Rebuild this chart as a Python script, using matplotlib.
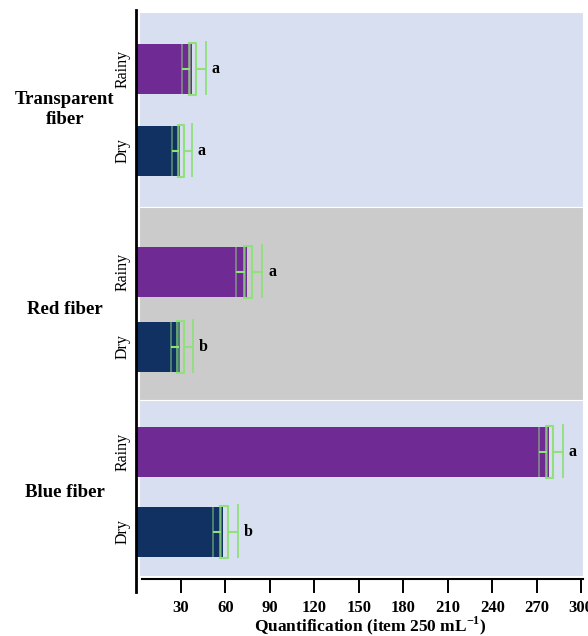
import numpy as np
import matplotlib.pyplot as plt

plt.rcParams['font.family'] = ['Liberation Serif', 'DejaVu Serif']
plt.rcParams['mathtext.fontset'] = 'custom'
plt.rcParams['mathtext.rm'] = 'Liberation Serif'
plt.rcParams['mathtext.bf'] = 'Liberation Serif:bold'

# fiber counts per season (mean and error)
groups = ['Transparent\nfiber', 'Red fiber', 'Blue fiber']
rainy_mean = [37.4, 74.5, 278.0]
rainy_err = [6.4, 7.0, 6.3]
dry_mean = [29.5, 29.5, 58.3]
dry_err = [5.4, 6.0, 6.7]
rainy_sig = ['a', 'a', 'a']
dry_sig = ['a', 'b', 'b']
xticks = [30, 60, 90, 120, 150, 180, 210, 240, 270, 300]

# layout (y runs downward, one unit per pixel row)
band_edges = [12, 207, 400, 576]
band_colors = ['#d8dff0', '#cbcbcb', '#d8dff0']
rainy_y = [68.5, 272, 452]
dry_y = [151, 347, 532]
bar_h = 50

c_rainy = '#702a94'
c_dry = '#123163'
c_err = '#90e07c'

fig = plt.figure(figsize=(5.88, 6.36), dpi=100)
W, H = 588, 636
ax = fig.add_axes([136.2 / W, (H - 579) / H, 446.5 / W, 569 / H])
ax.set_xlim(0, 301)
ax.set_ylim(579, 10)

for i in range(3):
    ax.axhspan(band_edges[i], band_edges[i + 1], xmin=0.006, xmax=1,
               facecolor=band_colors[i], edgecolor='white', lw=0.8, zorder=0)


def draw_err(y, v, e, sig):
    top, bot = y - bar_h / 2, y + bar_h / 2
    # inner bar ending at the mean
    ax.vlines([v - e, v - 0.15 * e], top, bot, color=c_err, alpha=0.5, lw=1.3, zorder=3)
    ax.hlines(y, v - e, v - 0.15 * e, color=c_err, lw=1.5, zorder=3)
    # bracket around the mean
    xs = [v - 0.3 * e, v + 0.5 * e, v + 0.5 * e, v - 0.3 * e]
    ax.plot(xs, [top - 1, top - 1, bot + 1, bot + 1], color=c_err, lw=1.5, zorder=4)
    ax.vlines(v - 0.3 * e, top - 1, bot + 1, color=c_err, lw=1.3, alpha=0.7, zorder=4)
    # outer whisker
    ax.hlines(y, v + 0.5 * e, v + 1.5 * e, color=c_err, lw=1.5, zorder=4)
    ax.vlines(v + 1.5 * e, top - 3, bot + 1, color=c_err, lw=1.3, zorder=4)
    ax.text(v + 1.5 * e + 4, y, sig, fontsize=11.5, fontweight='bold',
            ha='left', va='center', zorder=5)


for i in range(3):
    ax.barh(rainy_y[i], rainy_mean[i], height=bar_h, color=c_rainy, zorder=2)
    ax.barh(dry_y[i], dry_mean[i], height=bar_h, color=c_dry, zorder=2)
    draw_err(rainy_y[i], rainy_mean[i], rainy_err[i], rainy_sig[i])
    draw_err(dry_y[i], dry_mean[i], dry_err[i], dry_sig[i])
    mid = (rainy_y[i] + dry_y[i]) / 2
    ax.text(-0.160, mid, groups[i], transform=ax.get_yaxis_transform(),
            fontsize=13.5, fontweight='bold', ha='center', va='center',
            linespacing=1.2)

yt = []
yl = []
for i in range(3):
    yt += [rainy_y[i], dry_y[i]]
    yl += ['Rainy', 'Dry']
ax.set_yticks(yt)
ax.set_yticklabels(yl, rotation=90, va='center', fontsize=11.5)
ax.tick_params(axis='y', length=0, pad=4)

ax.set_xticks(xticks)
ax.set_xticklabels([str(t) for t in xticks], fontsize=12, fontweight='bold')
ax.tick_params(axis='x', length=10, width=1.4, pad=5, direction='out')

for s in ['top', 'right']:
    ax.spines[s].set_visible(False)
ax.spines['left'].set_linewidth(2.0)
ax.spines['left'].set_bounds(592, 10)
ax.spines['bottom'].set_linewidth(1.5)
ax.spines['bottom'].set_bounds(3.7, 301)

fig.text(370 / W, (H - 626) / H, r'Quantification (item 250 mL$^{\mathbf{-1}}$)',
         fontsize=12.5, fontweight='bold', ha='center', va='center')

fig.savefig('out.png', dpi=100, facecolor='white')
